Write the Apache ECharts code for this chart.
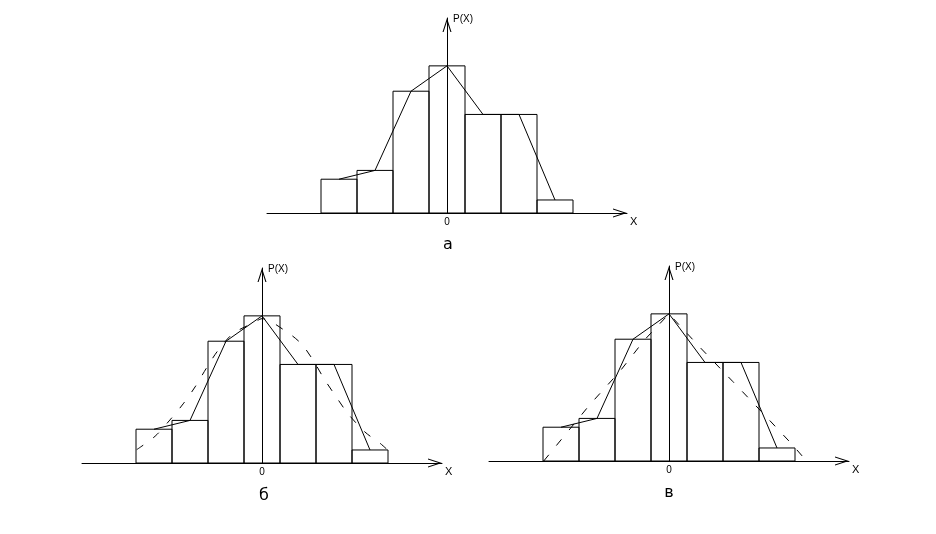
<!DOCTYPE html>
<html>
<head>
<meta charset="utf-8">
<script src="https://cdn.jsdelivr.net/npm/echarts@6/dist/echarts.min.js"></script>
<style>html,body{margin:0;padding:0;background:#fff}#c{width:936px;height:534px}</style>
</head>
<body>
<div id="c"></div>
<script>
// ---- data ----
const binCenters = [-3, -2, -1, 0, 1, 2, 3];
const binCounts = [4.8, 6.05, 17.3, 20.9, 14.0, 14.0, 1.85];
// dashed smooth curve, panel б (x, height)
const curveBX = [-3.48, -2.97, -2.56, -2.19, -1.86, -1.53, -1.22, -0.8, -0.2, 0, 0.61, 1.08, 1.42, 1.72, 2.06, 2.39, 2.86, 3.28, 3.5];
const curveBY = [1.9, 3.8, 6.1, 8.4, 10.8, 13.6, 16.0, 18.4, 20.0, 20.5, 18.9, 17.0, 14.6, 12.0, 9.4, 7.0, 4.4, 2.8, 1.8];
// dashed triangular curve, panel в
const curveVX = [-3.48, -2.2, -1.37, -0.68, 0, 0.85, 1.77, 2.57, 3.43, 3.82];
const curveVY = [0, 8.0, 12.7, 17.2, 20.9, 16.2, 11.3, 7.0, 2.3, 0];
const panelLabels = ['а', 'б', 'в'];
const xTickLabel = '0';
const xName = 'X';
const yName = 'P(X)';

const histData = binCenters.map((x, i) => [x, binCounts[i]]);
const polyData = binCenters.map((x, i) => [x, binCounts[i]]);
const curveB = curveBX.map((x, i) => [x, curveBY[i]]);
const curveV = curveVX.map((x, i) => [x, curveVY[i]]);

const ARROW = 'path://M4.5,0L9,14L7.9,14L4.5,3.4L1.1,14L0,14Z';
const FONT = 'Liberation Sans';

const grids = [
  {left: 267, top: 18, width: 360, height: 195},
  {left: 82, top: 268, width: 360, height: 195},
  {left: 489, top: 266, width: 360, height: 195}
];

function xAxisFor(i) {
  return {
    type: 'value', gridIndex: i, min: -5, max: 5, interval: 5,
    axisLine: {show: true, onZero: true, lineStyle: {color: '#000', width: 1},
      symbol: ['none', ARROW], symbolSize: [9, 14], symbolOffset: [0, -7]},
    axisTick: {show: false}, splitLine: {show: false},
    axisLabel: {show: true, margin: 4, color: '#000', fontSize: 10, fontFamily: FONT,
      formatter: v => (v === 0 ? xTickLabel : '')},
    name: xName, nameLocation: 'end', nameGap: 3,
    nameTextStyle: {color: '#000', fontSize: 11, fontFamily: FONT, align: 'left', verticalAlign: 'top', padding: [3, 0, 0, 0]}
  };
}
function yAxisFor(i) {
  return {
    type: 'value', gridIndex: i, min: 0, max: 27.7,
    axisLine: {show: true, onZero: true, lineStyle: {color: '#000', width: 1},
      symbol: ['none', ARROW], symbolSize: [9, 14], symbolOffset: [0, -7]},
    axisTick: {show: false}, splitLine: {show: false}, axisLabel: {show: false},
    name: yName, nameLocation: 'end', nameGap: -1,
    nameTextStyle: {color: '#000', fontSize: 10, fontFamily: FONT, align: 'left', verticalAlign: 'middle', padding: [0, 0, 0, 6]}
  };
}

function histSeries(i) {
  return {
    type: 'custom', xAxisIndex: i, yAxisIndex: i, data: histData, silent: true,
    renderItem: (params, api) => {
      const x = api.value(0), h = api.value(1);
      const p0 = api.coord([x - 0.5, h]);
      const p1 = api.coord([x + 0.5, 0]);
      return {type: 'rect', shape: {x: p0[0], y: p0[1], width: p1[0] - p0[0], height: p1[1] - p0[1]},
        style: {fill: 'none', stroke: '#000', lineWidth: 1}};
    }
  };
}
function polySeries(i) {
  return {type: 'line', xAxisIndex: i, yAxisIndex: i, data: polyData, showSymbol: false, symbol: 'none',
    lineStyle: {color: '#000', width: 1}, silent: true};
}

const series = [histSeries(0), polySeries(0), histSeries(1), polySeries(1), histSeries(2), polySeries(2),
  {type: 'line', xAxisIndex: 1, yAxisIndex: 1, data: curveB, smooth: 0.3, symbol: 'none', silent: true,
    lineStyle: {color: '#000', width: 1, type: [8, 12]}},
  {type: 'line', xAxisIndex: 2, yAxisIndex: 2, data: curveV, smooth: false, symbol: 'none', silent: true,
    lineStyle: {color: '#000', width: 1, type: [8, 12]}}
];

const labelPos = [[448, 245], [264, 496], [669, 493]];
const chart = echarts.init(document.getElementById('c'), null, {renderer: 'canvas'});
chart.setOption({
  backgroundColor: '#fff',
  animation: false,
  grid: grids,
  xAxis: [0, 1, 2].map(xAxisFor),
  yAxis: [0, 1, 2].map(yAxisFor),
  series: series,
  graphic: panelLabels.map((t, i) => ({type: 'text', x: labelPos[i][0], y: labelPos[i][1],
    style: {text: t, fill: '#000', font: '16px "DejaVu Sans"', align: 'center', verticalAlign: 'middle'}}))
});
</script>
</body>
</html>
